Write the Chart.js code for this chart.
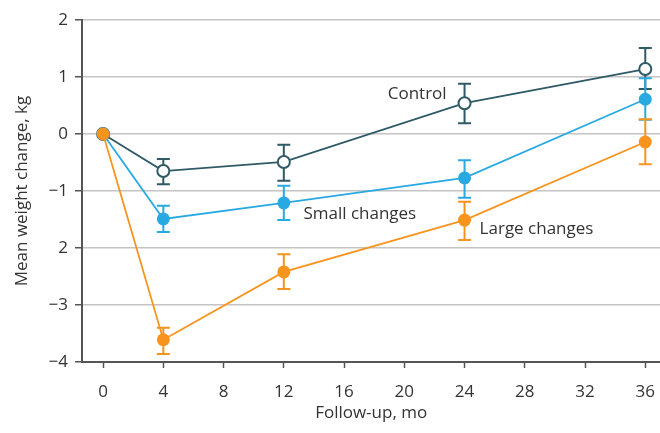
<!DOCTYPE html>
<html>
<head>
<meta charset="utf-8">
<script src="https://cdn.jsdelivr.net/npm/chart.js@4"></script>
<style>
  html, body { margin: 0; padding: 0; background: #fff; overflow: hidden; }
  #wrap { width: 669px; height: 433px; }
</style>
</head>
<body>
<div id="wrap"><canvas id="chart"></canvas></div>
<script>
// follow-up months
const months = [0, 4, 12, 24, 36];

// mean weight change, kg
const control = [0, -0.65, -0.49, 0.54, 1.14];
const controlHi = [0, -0.44, -0.19, 0.88, 1.51];
const controlLo = [0, -0.88, -0.82, 0.19, 0.79];

const small = [0, -1.49, -1.21, -0.77, 0.61];
const smallHi = [0, -1.26, -0.91, -0.46, 0.98];
const smallLo = [0, -1.72, -1.51, -1.12, 0.25];

const large = [0, -3.61, -2.42, -1.51, -0.14];
const largeHi = [0, -3.40, -2.11, -1.19, 0.26];
const largeLo = [0, -3.86, -2.72, -1.86, -0.53];

const xTicks = [0, 4, 8, 12, 16, 20, 24, 28, 32, 36];
const yTicks = [2, 1, 0, -1, -2, -3, -4];
const yTickLabels = ["2", "1", "0", "\u22121", "2", "\u22123", "\u22124"];

const FONT = "'Open Sans', sans-serif";
const TEXT = "#333333";
const FS = 17;

function pts(vals) {
	return months.map((m, i) => ({ x: m, y: vals[i] }));
}

const errBars = [
	{ hi: controlHi, lo: controlLo, color: "#2f5a66" },
	{ hi: smallHi, lo: smallLo, color: "#29a9e1" },
	{ hi: largeHi, lo: largeLo, color: "#f7941d" }
];

const errorBarPlugin = {
	id: "errorBars",
	beforeDatasetsDraw(chart) {
		const ctx = chart.ctx;
		const xs = chart.scales.x, ys = chart.scales.y;
		ctx.save();
		ctx.lineWidth = 2;
		errBars.forEach(e => {
			ctx.strokeStyle = e.color;
			for (let i = 1; i < months.length; i++) {
				const px = xs.getPixelForValue(months[i]);
				const top = ys.getPixelForValue(e.hi[i]);
				const bot = ys.getPixelForValue(e.lo[i]);
				ctx.beginPath();
				ctx.moveTo(px, top); ctx.lineTo(px, bot);
				ctx.moveTo(px - 6.5, top); ctx.lineTo(px + 6.5, top);
				ctx.moveTo(px - 6.5, bot); ctx.lineTo(px + 6.5, bot);
				ctx.stroke();
			}
		});
		ctx.restore();
	}
};

const labelPlugin = {
	id: "seriesLabels",
	afterDatasetsDraw(chart) {
		const ctx = chart.ctx;
		const xs = chart.scales.x, ys = chart.scales.y;
		ctx.save();
		ctx.fillStyle = TEXT;
		ctx.font = FS + "px " + FONT;
		ctx.textBaseline = "middle";
		ctx.textAlign = "left";
		ctx.fillText("Control", xs.getPixelForValue(18.9), ys.getPixelForValue(0.7));
		ctx.fillText("Small changes", xs.getPixelForValue(13.3), ys.getPixelForValue(-1.4));
		ctx.fillText("Large changes", xs.getPixelForValue(25.0), ys.getPixelForValue(-1.67));
		ctx.restore();
	}
};

function series(label, vals, color, hollow) {
	return {
		label: label,
		data: pts(vals),
		borderColor: color,
		backgroundColor: hollow ? "#ffffff" : color,
		pointBackgroundColor: hollow ? "#ffffff" : color,
		pointBorderColor: color,
		pointBorderWidth: hollow ? 2 : 0,
		pointRadius: hollow ? 6 : 6.5,
		borderWidth: 1.8,
		tension: 0,
		fill: false
	};
}

// first dataset ends up on top, so the orange series goes first
// (canvas is 9px wider than the window so the last tick label's padding falls off the edge)
new Chart(document.getElementById("chart"), {
	type: "line",
	data: {
		datasets: [
			series("Large changes", large, "#f7941d", false),
			series("Small changes", small, "#29a9e1", false),
			series("Control", control, "#2f5a66", true)
		]
	},
	options: {
		responsive: true,
		maintainAspectRatio: false,
		animation: false,
		layout: { autoPadding: false, padding: { top: 20, right: 0, left: 0, bottom: 0 } },
		plugins: {
			legend: { display: false },
			tooltip: { enabled: false }
		},
		scales: {
			x: {
				type: "linear",
				min: -1.4,
				max: 37,
				afterBuildTicks: s => { s.ticks = xTicks.map(v => ({ value: v })); },
				afterFit: s => { s.height = 71; },
				border: { color: "#555555", width: 2 },
				grid: { drawOnChartArea: false, drawTicks: true, tickLength: 6, tickColor: "#555555", tickWidth: 1.5 },
				ticks: { color: TEXT, font: { family: FONT, size: FS }, padding: 14, maxRotation: 0 },
				title: { display: true, text: "Follow-up, mo", color: TEXT, font: { family: FONT, size: FS }, padding: { top: 0, bottom: 10 } }
			},
			y: {
				min: -4,
				max: 2,
				afterBuildTicks: s => { s.ticks = yTicks.map(v => ({ value: v })); },
				afterFit: s => { s.width = 82; },
				border: { color: "#555555", width: 2 },
				grid: { color: "#c4c4c4", lineWidth: 1.5, drawTicks: true, tickLength: 7, tickColor: "#555555", tickWidth: 1.5 },
				ticks: {
					color: TEXT,
					font: { family: FONT, size: FS },
					padding: 7,
					callback: v => yTickLabels[yTicks.indexOf(v)]
				},
				title: { display: true, text: "Mean weight change, kg", color: TEXT, font: { family: FONT, size: FS }, padding: { top: 12, bottom: 0 } }
			}
		}
	},
	plugins: [errorBarPlugin, labelPlugin]
});
</script>
</body>
</html>
